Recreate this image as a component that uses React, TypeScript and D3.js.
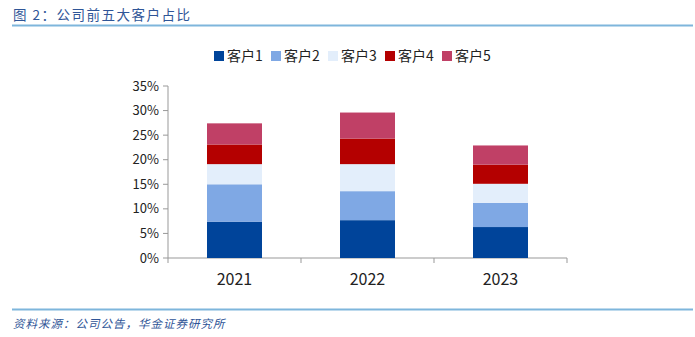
import React from "react";
import * as d3 from "d3";

const years = ["2021", "2022", "2023"];
const seriesNames = ["客户1", "客户2", "客户3", "客户4", "客户5"];
const customer1 = [7.4, 7.7, 6.3];
const customer2 = [7.6, 5.9, 4.9];
const customer3 = [4.1, 5.5, 3.9];
const customer4 = [4.0, 5.2, 3.9];
const customer5 = [4.3, 5.3, 3.9];
const yTicks = [0, 5, 10, 15, 20, 25, 30, 35];
const colors = ["#00449A", "#7FA8E4", "#E3EEFB", "#B40000", "#C04066"];

const W = 695;
const H = 337;

export default function App() {
  const seriesVals = [customer1, customer2, customer3, customer4, customer5];
  const rows = years.map((y, i) => {
    const r: any = { year: y };
    seriesNames.forEach((s, k) => (r[s] = seriesVals[k][i]));
    return r;
  });
  const stacked = d3.stack<any>().keys(seriesNames)(rows);

  const x0 = 168, x1 = 567;
  const yScale = d3.scaleLinear().domain([0, 35]).range([258, 86]);
  const xScale = d3.scaleBand().domain(years).range([x0, x1]).paddingInner(0).paddingOuter(0);
  const bw = 55;
  const font = "'Noto Sans CJK SC', 'Noto Sans', sans-serif";

  return (
    <svg width={W} height={H} style={{ position: "absolute", left: 0, top: 0, background: "#fff" }}>
      <text x={13} y={20} fontFamily={font} fontSize={13.5} fill="#2F5597" letterSpacing={1.5}>
        图 2：公司前五大客户占比
      </text>
      <line x1={12} x2={693} y1={25.5} y2={25.5} stroke="#7EB6DC" strokeWidth={2} />
      {/* legend */}
      {seriesNames.map((s, k) => {
        const lx = 214 + k * 57;
        return (
          <g key={s}>
            <rect x={lx} y={51} width={10} height={10} fill={colors[k]} />
            <text x={lx + 13} y={61} fontFamily={font} fontSize={14} fill="#222">
              {s}
            </text>
          </g>
        );
      })}
      {/* y axis */}
      <line x1={x0} x2={x0} y1={yScale(35)} y2={yScale(0)} stroke="#999" />
      {yTicks.map((t) => (
        <g key={t}>
          <line x1={x0 - 5} x2={x0} y1={yScale(t)} y2={yScale(t)} stroke="#999" />
          <text x={x0 - 9} y={yScale(t)} dy="0.35em" textAnchor="end" fontFamily={font} fontSize={13} fill="#222">
            {t}%
          </text>
        </g>
      ))}
      {/* x axis */}
      <line x1={x0} x2={x1} y1={yScale(0)} y2={yScale(0)} stroke="#999" />
      {[...years.map((y) => xScale(y)!), x1].map((xx, i) => (
        <line key={i} x1={xx} x2={xx} y1={yScale(0)} y2={yScale(0) + 5} stroke="#999" />
      ))}
      {years.map((y) => (
        <text key={y} x={xScale(y)! + xScale.bandwidth() / 2} y={285} textAnchor="middle" fontFamily={font} fontSize={16} fill="#222">
          {y}
        </text>
      ))}
      {/* bars */}
      {stacked.map((layer, k) => (
        <g key={layer.key}>
          {layer.map((d: any, i: number) => {
            const cx = xScale(years[i])! + xScale.bandwidth() / 2;
            return (
              <rect
                key={i}
                x={cx - bw / 2}
                y={yScale(d[1])}
                width={bw}
                height={yScale(d[0]) - yScale(d[1])}
                fill={colors[k]}
              />
            );
          })}
        </g>
      ))}
      <line x1={12} x2={693} y1={309.5} y2={309.5} stroke="#7EB6DC" strokeWidth={2} />
      <text x={13} y={328} fontFamily={font} fontSize={11.5} fill="#2F5597" fontStyle="italic" letterSpacing={1}>
        资料来源：公司公告，华金证券研究所
      </text>
    </svg>
  );
}
